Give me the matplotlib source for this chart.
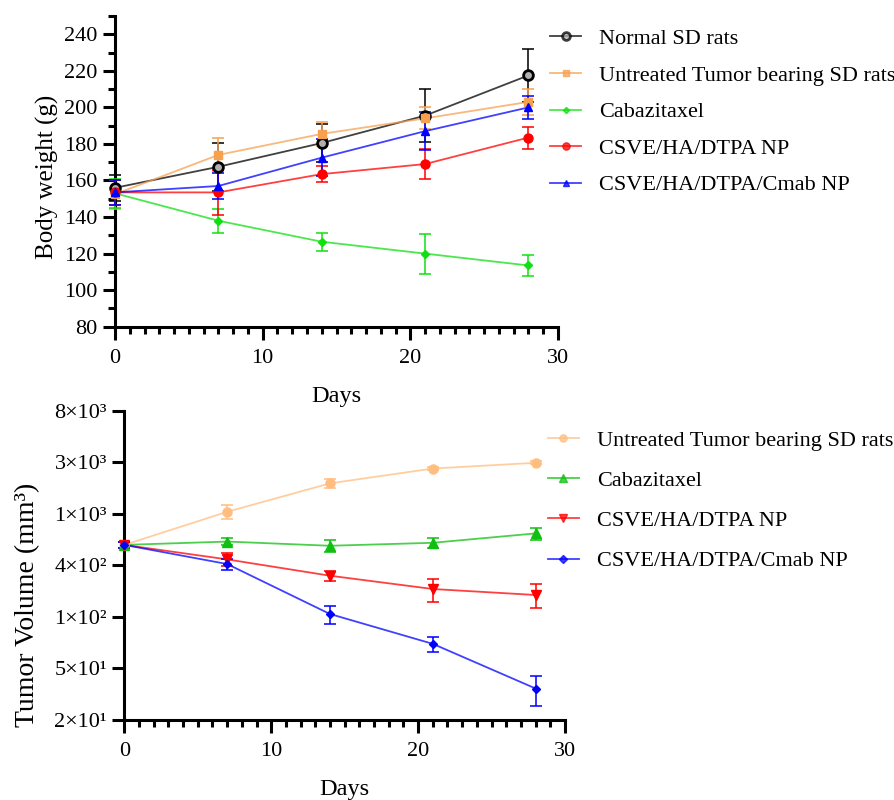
import numpy as np
import matplotlib
matplotlib.use("Agg")
import matplotlib.pyplot as plt
from matplotlib.ticker import MultipleLocator, FixedLocator, NullLocator

plt.rcParams['font.family'] = ['Liberation Serif', 'DejaVu Serif']

days = [0, 7, 14, 21, 28]

# Top panel: body weight (g)
bw_labels = ["Normal SD rats", "Untreated Tumor bearing SD rats", "Cabazitaxel",
             "CSVE/HA/DTPA NP", "CSVE/HA/DTPA/Cmab NP"]
bw_normal = [156, 167.5, 180.5, 195.5, 217.5]
bw_normal_err = [7, 13, 10.5, 14.5, 14.5]
bw_untreated = [152.5, 174, 185.5, 194, 203]
bw_untreated_err = [8, 9, 6.5, 6, 7]
bw_caba = [153, 138, 126.5, 120, 113.5]
bw_caba_err = [8, 6.5, 5, 11, 5.5]
bw_np = [153.5, 153.5, 163.5, 169, 183.5]
bw_np_err = [7, 12.5, 4.5, 8, 6]
bw_cmab = [153.5, 157, 172.5, 187, 200]
bw_cmab_err = [7, 7, 10, 10.5, 6.5]

# Bottom panel: tumor volume (mm3)
tv_labels = ["Untreated Tumor bearing SD rats", "Cabazitaxel",
             "CSVE/HA/DTPA NP", "CSVE/HA/DTPA/Cmab NP"]
tv_untreated = [600, 1140, 1980, 2640, 2950]
tv_untreated_err = [40, 150, 170, 90, 90]
tv_caba = [600, 640, 590, 625, 750]
tv_caba_err = [40, 40, 65, 60, 90]
tv_np = [600, 453, 330, 255, 227]
tv_np_err = [40, 55, 33, 57, 52]
tv_cmab = [600, 414, 157, 88, 37]
tv_cmab_err = [40, 45, 28, 13, 10.5]
tv_ticks_exp = [3, 4, 5, 6, 7, 8, 9]
tv_tick_labels = ["2×10¹", "5×10¹", "1×10²", "4×10²", "1×10³", "3×10³", "8×10³"]

fig = plt.figure(figsize=(8.95, 8.0), dpi=100)
ax1 = fig.add_axes([0.1285, 0.5916, 0.495, 0.3884])
ax2 = fig.add_axes([0.1389, 0.10, 0.4924, 0.3866])


def style(ax):
    for s in ["top", "right"]:
        ax.spines[s].set_visible(False)
    for s in ["left", "bottom"]:
        ax.spines[s].set_linewidth(2.2)
    ax.tick_params(which="major", direction="out", length=9, width=2.2, labelsize=16)
    ax.tick_params(which="minor", direction="out", length=5, width=2.2)
    ax.tick_params(axis="x", which="major", pad=7)
    ax.xaxis.set_major_locator(MultipleLocator(10))
    ax.xaxis.set_minor_locator(MultipleLocator(1))
    ax.set_xlim(0, 30)
    ax.set_xlabel("Days", fontsize=17.5, labelpad=13)


def series(ax, y, e, color, marker, ms, label, mfc=None, mew=1.0, lalpha=0.75):
    ax.errorbar(days, y, yerr=e, color=color, ecolor=color, elinewidth=1.3, capsize=4,
                capthick=1.3, fmt="none", alpha=0.85, clip_on=False, zorder=3)
    ax.plot(days, y, color=color, lw=1.3, alpha=lalpha, zorder=3, clip_on=False)
    ax.plot(days, y, ls="none", marker=marker, ms=ms, color=color,
            mfc=mfc if mfc else color, mec=color, mew=mew, zorder=4, clip_on=False)
    ax.plot([], [], color=color, lw=1.3, alpha=lalpha, marker=marker, ms=ms * 0.8,
            mfc=mfc if mfc else color, mec=color, mew=mew, label=label)


style(ax1)
series(ax1, bw_normal, bw_normal_err, "#000000", "o", 7, bw_labels[0], mfc="#B0B0B0", mew=2.0)
series(ax1, bw_untreated, bw_untreated_err, "#F7A050", "s", 6, bw_labels[1])
series(ax1, bw_caba, bw_caba_err, "#10E010", "D", 4, bw_labels[2])
series(ax1, bw_np, bw_np_err, "#FF0000", "o", 6.5, bw_labels[3])
series(ax1, bw_cmab, bw_cmab_err, "#0000FF", "^", 6, bw_labels[4])
ax1.set_ylim(80, 250)
ax1.yaxis.set_major_locator(FixedLocator(np.arange(80, 241, 20)))
ax1.yaxis.set_minor_locator(FixedLocator(np.arange(90, 251, 10)))
ax1.set_ylabel("Body weight (g)", fontsize=18)
ax1.yaxis.set_label_coords(-0.126, 0.482)
ax1.legend(loc="upper left", bbox_to_anchor=(0.962, 0.988), frameon=False, fontsize=16,
           handlelength=1.4, handletextpad=0.8, labelspacing=0.72, borderaxespad=0)

style(ax2)
series(ax2, tv_untreated, tv_untreated_err, "#FFBE80", "o", 6.5, tv_labels[0])
series(ax2, tv_caba, tv_caba_err, "#10C010", "^", 6.5, tv_labels[1])
series(ax2, tv_np, tv_np_err, "#FF0000", "v", 6.5, tv_labels[2])
series(ax2, tv_cmab, tv_cmab_err, "#0000FF", "D", 4.5, tv_labels[3])
ax2.set_yscale("log", base=np.e)
ax2.set_ylim(np.exp(3), np.exp(9))
ax2.yaxis.set_major_locator(FixedLocator(np.exp(tv_ticks_exp)))
ax2.yaxis.set_minor_locator(NullLocator())
ax2.set_yticklabels(tv_tick_labels)
ax2.set_ylabel("Tumor Volume (mm³)", fontsize=20)
ax2.yaxis.set_label_coords(-0.19, 0.372)
ax2.legend(loc="upper left", bbox_to_anchor=(0.941, 0.965), frameon=False, fontsize=16,
           handlelength=1.4, handletextpad=0.8, labelspacing=0.88, borderaxespad=0)

fig.savefig("out.png", dpi=100)
